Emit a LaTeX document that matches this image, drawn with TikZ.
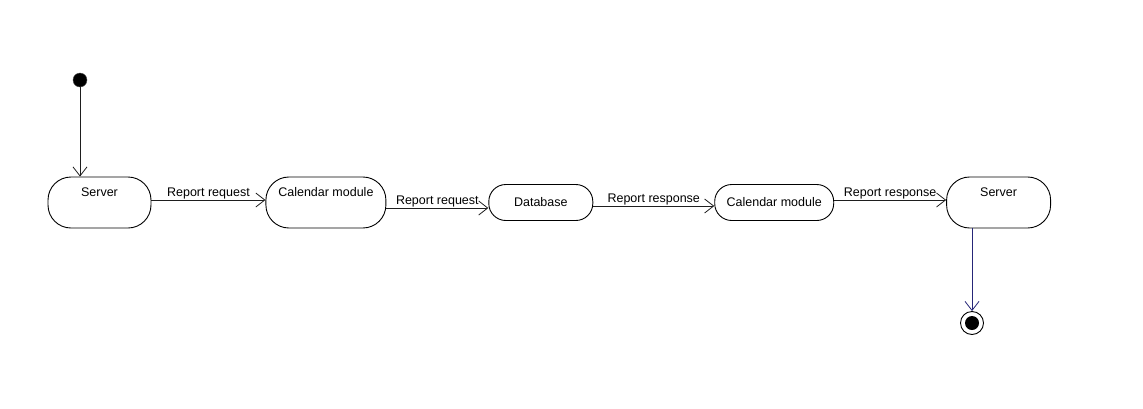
\documentclass[tikz,border=0pt]{standalone}
\usepackage{fontspec}
\setmainfont{Liberation Sans}
\usepackage{tikz}
\usetikzlibrary{positioning, arrows.meta}
\definecolor{flowline}{RGB}{30,30,30}
\definecolor{endline}{RGB}{38,38,120}

\begin{document}
\begin{tikzpicture}[x=1pt,y=-1pt,font=\fontsize{12.5}{14}\selectfont]
      \tikzset{tallstate/.style={draw,line width=0.9pt,rounded corners=23pt,minimum width=103pt,inner ysep=0pt,text height=19.5pt,text depth=31.5pt}, flatstate/.style={draw,line width=0.9pt,rounded corners=17pt,minimum width=104pt,minimum height=36pt}, flow/.style={draw=flowline,line width=0.8pt,-{Straight Barb[length=9pt,width=14pt]}}, lbl/.style={midway,above=0pt,inner sep=1pt}}
      \useasboundingbox (0,0) rectangle (1143,408);
      \node[circle,fill=black,draw=black!70,inner sep=0pt,minimum size=14pt] (start) at (80,80) {};
      \node[tallstate] (srvA) at (99.5,202.5) {Server};
      \node[tallstate,minimum width=120pt,right=114pt of srvA] (calA) {Calendar module};
      \node[flatstate,right=102pt of calA] (db) {Database};
      \node[flatstate,minimum width=119pt,right=121pt of db] (calB) {Calendar module};
      \node[tallstate,minimum width=104pt,right=112pt of calB] (srvB) {Server};
      \node[circle,draw=black,line width=0.9pt,fill=white,inner sep=0pt,minimum size=23pt] (stop) at (972,323) {};
      \fill (stop) circle (7pt);
      \draw[flow] (start) -- (start |- srvA.north);
      \draw[flow] ([yshift=2.5pt]srvA.east) -- node[lbl] {Report request} ([yshift=2.5pt]calA.west);
      \draw[flow] ([yshift=-5.5pt]calA.east) -- node[lbl] {Report request} ([yshift=-5.5pt]db.west);
      \draw[flow] ([yshift=-3.5pt]db.east) -- node[lbl] {Report response} ([yshift=-3.5pt]calB.west);
      \draw[flow] ([yshift=2.5pt]calB.east) -- node[lbl] {Report response} ([yshift=2.5pt]srvB.west);
      \draw[flow,draw=endline] (stop |- srvB.south) -- (stop);
    \end{tikzpicture}
\end{document}
